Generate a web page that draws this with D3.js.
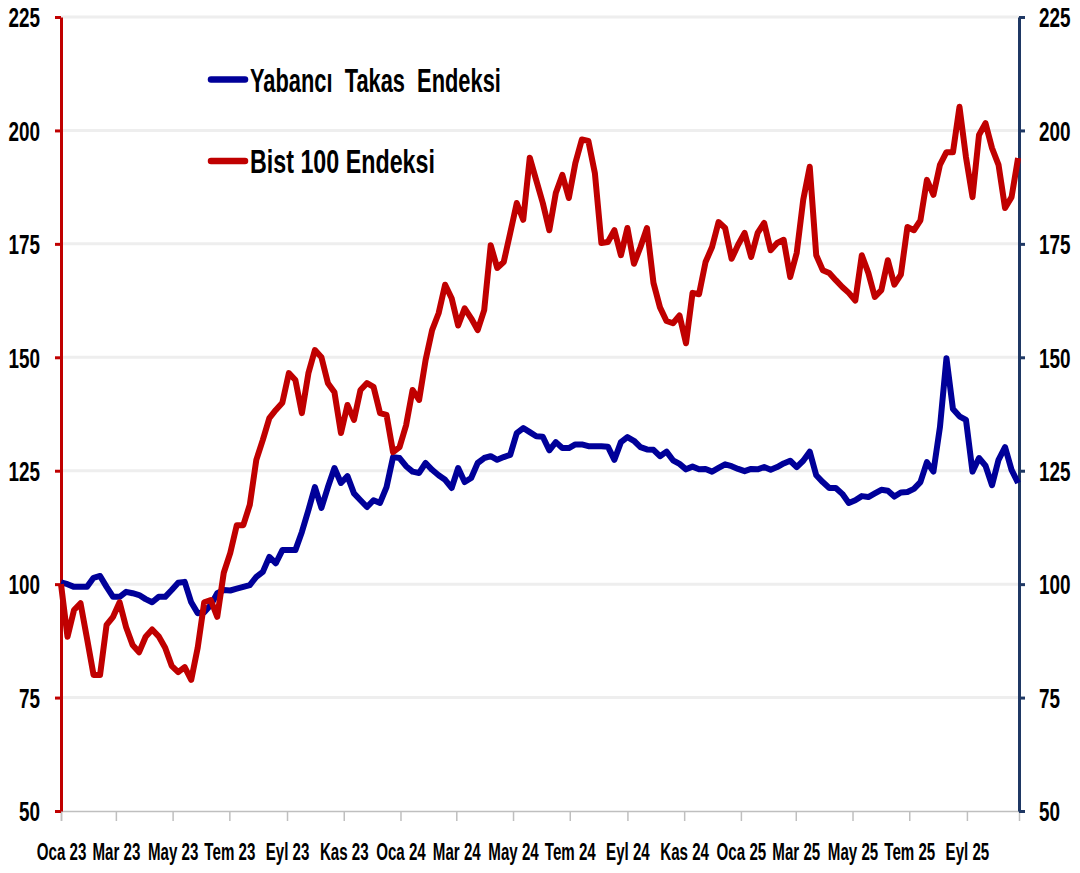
<!DOCTYPE html>
<html>
<head>
<meta charset="utf-8">
<script src="https://cdn.jsdelivr.net/npm/d3@7"></script>
<style>
  body { margin: 0; background: #fff; }
  svg text { font-family: "Liberation Sans", Arial, sans-serif; font-weight: bold; fill: #000; }
</style>
</head>
<body>
<div id="chart"></div>
<script>
// weekly observations, first week starts 1 Jan 2023
var startDate = new Date(2023, 0, 1);

var bistValues = [
  100, 88.4, 94.3, 95.8, 88, 80, 80, 91, 92.8, 96,
  90.5, 86.6, 85, 88.4, 90, 88.5, 86, 82, 80.6, 81.7,
  78.9, 86, 96, 96.5, 92.8, 102.5, 106.9, 113, 113, 117.5,
  127.4, 131.8, 136.6, 138.4, 140, 146.5, 145, 137.7, 146.5, 151.6,
  150, 144.3, 142.3, 133.3, 139.5, 136.2, 142.8, 144.3, 143.5, 137.7,
  137.3, 129.1, 130.2, 135, 142.8, 140.6, 149.4, 156, 159.7, 166,
  163, 157, 160.8, 158.6, 156, 160.4, 174.7, 169.7, 171, 177.4,
  184, 180.3, 194, 189, 184, 178, 186.2, 190.2, 185.1, 192.8,
  198, 197.7, 190.6, 175.2, 175.4, 178, 172.5, 178.5, 170.6, 174.3,
  178.5, 166.4, 161, 158, 157.5, 159.2, 153.1, 164.2, 163.9, 171,
  174.3, 179.8, 178.5, 171.7, 174.8, 177.4, 172.1, 177.4, 179.6, 173.6,
  175.2, 175.9, 167.7, 173, 184.7, 192, 172.5, 169.2, 168.6, 167,
  165.5, 164.2, 162.5, 172.5, 168.6, 163.3, 164.8, 171.4, 166, 168.2,
  178.7, 178, 180.2, 189.1, 185.8, 192.4, 195.2, 195.2, 205.2, 194.1,
  185.3, 199, 201.6, 196.1, 192.4, 182.9, 185.3, 193.9
];

var takasValues = [
  100.4, 100, 99.4, 99.4, 99.4, 101.4, 101.8, 99.4, 97.2, 97.2,
  98.3, 98, 97.6, 96.7, 96, 97.2, 97.2, 98.7, 100.3, 100.5,
  96, 93.6, 93.8, 95.4, 98, 98.7, 98.6, 99, 99.4, 99.8,
  101.6, 102.7, 106, 104.6, 107.5, 107.5, 107.5, 111.5, 116.3, 121.4,
  116.8, 121.4, 125.6, 122.3, 123.8, 120, 118.5, 117, 118.5, 117.9,
  121.4, 128, 127.8, 126, 124.8, 124.5, 126.7, 125.2, 124, 123,
  121.2, 125.6, 122.5, 123.4, 126.7, 127.8, 128.2, 127.4, 128, 128.5,
  133.3, 134.4, 133.5, 132.6, 132.5, 129.5, 131.3, 130, 130, 130.8,
  130.8, 130.4, 130.4, 130.4, 130.3, 127.4, 131.3, 132.4, 131.6, 130.2,
  129.7, 129.6, 128.2, 129.2, 127.3, 126.5, 125.3, 125.9, 125.3, 125.4,
  124.8, 125.6, 126.4, 126, 125.4, 124.9, 125.4, 125.3, 125.8, 125.2,
  125.8, 126.6, 127.2, 125.8, 127.2, 129.2, 124, 122.5, 121.2, 121.2,
  119.9, 117.9, 118.5, 119.4, 119.2, 120, 120.8, 120.6, 119.3, 120.2,
  120.3, 121, 122.5, 126.9, 124.8, 134.6, 149.8, 138.6, 137, 136.2,
  124.8, 127.8, 126.1, 121.8, 127.4, 130.2, 125.2, 122.3
];

var yTicks = [50, 75, 100, 125, 150, 175, 200, 225];
var monthNames = ['Oca', 'Şub', 'Mar', 'Nis', 'May', 'Haz', 'Tem', 'Ağu', 'Eyl', 'Eki', 'Kas', 'Ara'];
var seriesNames = ['Yabancı  Takas  Endeksi', 'Bist 100 Endeksi'];
var seriesColors = ['#000099', '#C00000'];

var model = {
  width: 1080,
  height: 873,
  left: 61,
  right: 1019,
  top: 17,
  bottom: 811
};

// squeeze text horizontally (around its own x) to imitate the narrow font of the original
function condense(selection, factor) {
  selection.each(function () {
    var t = d3.select(this);
    var x0 = +t.attr('x') || 0;
    t.attr('x', x0 / factor)
      .attr('transform', 'scale(' + factor + ',1)');
  });
}

var svg = d3.select('#chart').append('svg')
  .attr('width', model.width)
  .attr('height', model.height);

var x = d3.scaleTime()
  .domain([startDate, new Date(2025, 9, 27)])
  .range([model.left, model.right]);

var y = d3.scaleLinear()
  .domain([50, 225])
  .range([model.bottom, model.top]);

function toPoints(values) {
  return values.map((v, i) => ({ date: d3.timeDay.offset(startDate, 7 * i), value: v }));
}

// gridlines
svg.append('g').selectAll('line').data(yTicks.slice(1))
  .join('line')
  .attr('x1', model.left)
  .attr('x2', model.right)
  .attr('y1', (d) => y(d))
  .attr('y2', (d) => y(d))
  .attr('stroke', '#eeeeee')
  .attr('stroke-width', 3);

// bottom axis
var xTicks = d3.timeMonth.every(2).range(startDate, new Date(2025, 9, 2));
var xAxis = svg.append('g')
  .attr('transform', 'translate(0,' + model.bottom + ')')
  .call(d3.axisBottom(x).tickValues(xTicks).tickSize(10)
    .tickFormat((d) => monthNames[d.getMonth()] + ' ' + String(d.getFullYear()).slice(2)));
xAxis.select('.domain').attr('stroke', '#bfbfbf').attr('stroke-width', 1.5);
xAxis.selectAll('.tick line').attr('stroke', '#bfbfbf').attr('stroke-width', 1.5);
xAxis.selectAll('.tick text')
  .attr('font-size', 24)
  .attr('fill', '#000')
  .attr('y', 49)
  .attr('dy', 0)
  .call(condense, 0.63);

// left axis (red)
var leftAxis = svg.append('g')
  .attr('transform', 'translate(' + model.left + ',0)')
  .call(d3.axisLeft(y).tickValues(yTicks).tickSize(6).tickPadding(15).tickSizeOuter(0));
leftAxis.select('.domain').attr('stroke', '#C00000').attr('stroke-width', 3);
leftAxis.selectAll('.tick line').attr('stroke', '#C00000').attr('stroke-width', 3);
leftAxis.selectAll('.tick text')
  .attr('font-size', 27)
  .attr('fill', '#000')
  .attr('dy', '0.36em')
  .call(condense, 0.7);

// right axis (navy)
var rightAxis = svg.append('g')
  .attr('transform', 'translate(' + model.right + ',0)')
  .call(d3.axisRight(y).tickValues(yTicks).tickSize(6).tickPadding(14).tickSizeOuter(0));
rightAxis.select('.domain').attr('stroke', '#1f3864').attr('stroke-width', 3);
rightAxis.selectAll('.tick line').attr('stroke', '#1f3864').attr('stroke-width', 3);
rightAxis.selectAll('.tick text')
  .attr('font-size', 27)
  .attr('fill', '#000')
  .attr('dy', '0.36em')
  .call(condense, 0.7);

// lines
var line = d3.line()
  .x((d) => x(d.date))
  .y((d) => y(d.value));

var series = [takasValues, bistValues];
svg.append('g').selectAll('path').data(series)
  .join('path')
  .attr('d', (d) => line(toPoints(d)))
  .attr('fill', 'none')
  .attr('stroke', (d, i) => seriesColors[i])
  .attr('stroke-width', 6)
  .attr('stroke-linejoin', 'round');

// legend
var legendWidths = [251, 185];
var legend = svg.append('g').selectAll('g').data(seriesNames)
  .join('g')
  .attr('transform', (d, i) => 'translate(208,' + (79.5 + i * 81.5) + ')');

legend.append('line')
  .attr('x1', 3).attr('x2', 37)
  .attr('stroke', (d, i) => seriesColors[i])
  .attr('stroke-width', 6.5)
  .attr('stroke-linecap', 'round');

legend.append('text')
  .attr('y', 12)
  .attr('font-size', 33)
  .style('white-space', 'pre')
  .text((d) => d)
  .each(function (d, i) {
    var f = legendWidths[i] / this.getComputedTextLength();
    d3.select(this).attr('transform', 'translate(42,0) scale(' + f + ',1)');
  });
</script>
</body>
</html>
